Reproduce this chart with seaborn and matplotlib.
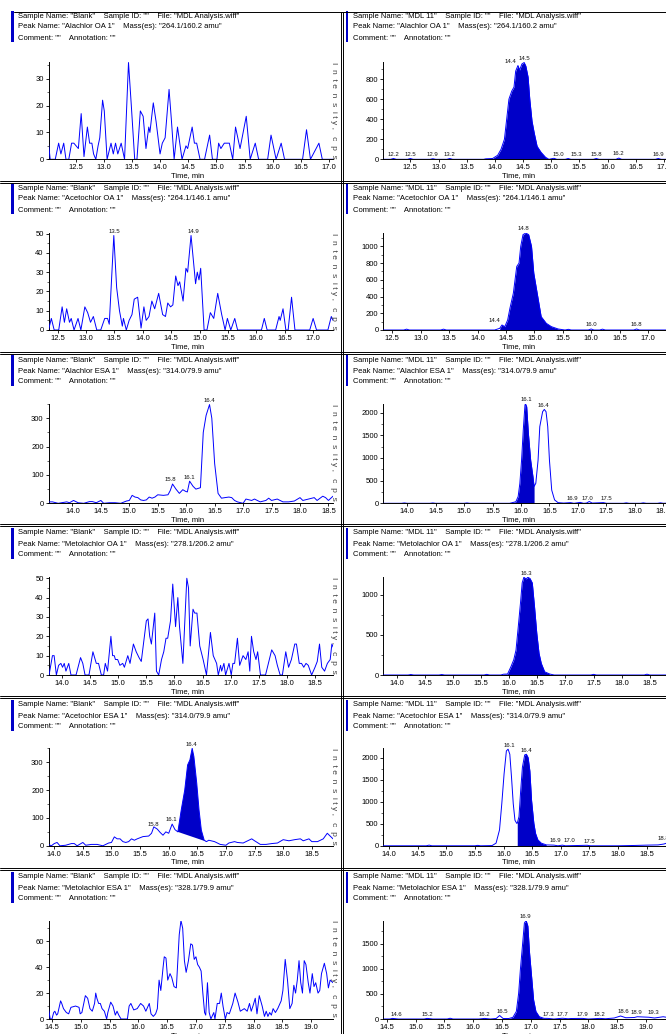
import numpy as np
import matplotlib
matplotlib.use("Agg")
import matplotlib.pyplot as plt
import seaborn as sns
from matplotlib.lines import Line2D
from matplotlib.patches import Rectangle
from matplotlib.ticker import MultipleLocator, AutoMinorLocator, FormatStrFormatter

sns.set_theme(style="white")
plt.rcParams["font.family"] = ["Liberation Sans", "DejaVu Sans"]

# ---------------- data ----------------
compounds = ["Alachlor OA 1", "Acetochlor OA 1", "Alachlor ESA 1",
             "Metolachlor OA 1", "Acetochlor ESA 1", "Metolachlor ESA 1"]
masses = ["264.1/160.2 amu", "264.1/146.1 amu", "314.0/79.9 amu",
          "278.1/206.2 amu", "314.0/79.9 amu", "328.1/79.9 amu"]
samples = ["Blank", "MDL 11"]
x_ranges = [(12.02, 17.07), (12.34, 17.35), (13.58, 18.58),
            (13.76, 18.82), (13.9, 18.87), (14.44, 19.38)]
y_tops_blank = [36.2, 50.3, 350, 50.5, 350, 76]
y_tops_mdl = [970, 1160, 2190, 1220, 2210, 1960]
y_steps_blank = [10, 10, 100, 10, 100, 20]
y_steps_mdl = [200, 200, 500, 500, 500, 500]

blank_alachlor_oa = [(12.02,6),(12.05,0),(12.14,0),(12.2,6),(12.24,2),(12.29,6),(12.33,0),(12.38,0),(12.43,6),(12.47,6),
    (12.51,5),(12.55,4),(12.6,17),(12.65,1),(12.71,12),(12.75,6),(12.79,6),(12.82,2),(12.86,0),(12.9,5),
    (12.93,8),(12.98,22),(13.01,18),(13.06,0),(13.13,6),(13.17,2),(13.21,6),(13.25,2),(13.31,6),(13.37,0),
    (13.44,36),(13.49,20),(13.55,0),(13.59,0),(13.65,18),(13.7,16),(13.75,4),(13.8,12),(13.82,10),(13.88,21),
    (13.93,14),(14.0,2),(14.04,6),(14.09,8),(14.16,26),(14.2,15),(14.25,0),(14.31,12),(14.39,0),(14.46,5),
    (14.49,4),(14.57,12),(14.61,6),(14.65,6),(14.71,0),(14.79,0),(14.88,9),(14.93,0),(15.01,0),(15.04,6),
    (15.08,4),(15.14,6),(15.23,6),(15.29,0),(15.34,12),(15.42,4),(15.53,16),(15.6,0),(15.69,6),(15.75,0),
    (15.91,0),(15.97,9),(16.06,0),(16.15,6),(16.21,0),(16.53,0),(16.6,11),(16.67,0),(16.82,6),(16.88,0),(17.07,0)]

mdl_alachlor_oa = [(12.02,0),(12.15,0),(12.2,8),(12.25,0),(12.45,0),(12.5,8),(12.55,0),(12.85,0),(12.9,6),(12.95,0),
    (13.15,0),(13.2,8),(13.25,0),(13.8,0),(13.84,5),(13.96,8),(14.05,40),(14.11,100),(14.17,200),(14.21,400),
    (14.25,600),(14.3,680),(14.34,720),(14.37,880),(14.41,935),(14.44,890),(14.48,950),(14.52,965),(14.55,930),
    (14.59,820),(14.62,600),(14.66,380),(14.7,260),(14.75,130),(14.82,70),(14.9,20),(14.96,0),(15.0,5),(15.05,10),
    (15.1,0),(15.25,0),(15.3,8),(15.35,0),(15.75,0),(15.8,8),(15.85,0),(16.15,0),(16.2,12),(16.25,0),(16.85,0),
    (16.9,8),(16.95,0),(17.1,0)]

blank_acetochlor_oa = [(12.34,0),(12.39,6),(12.44,0),(12.52,0),(12.58,12),(12.62,4),(12.66,11),(12.71,4),(12.74,6),
    (12.79,0),(12.86,6),(12.91,0),(12.98,12),(13.03,9),(13.08,4),(13.13,7),(13.19,0),(13.26,0),(13.33,6),(13.38,6),
    (13.41,3),(13.49,49),(13.54,22),(13.59,10),(13.64,2),(13.66,6),(13.71,0),(13.76,5),(13.81,8),(13.85,16),
    (13.91,17),(13.97,1),(14.02,12),(14.06,5),(14.11,7),(14.16,15),(14.21,11),(14.28,19),(14.35,8),(14.4,7),
    (14.44,14),(14.49,12),(14.53,13),(14.58,28),(14.62,23),(14.65,25),(14.71,15),(14.76,32),(14.79,30),(14.85,49),
    (14.93,24),(14.96,30),(14.99,26),(15.02,32),(15.08,0),(15.13,0),(15.19,9),(15.25,6),(15.32,19),(15.39,8),
    (15.45,0),(15.49,6),(15.55,0),(15.62,6),(15.67,0),(16.09,0),(16.14,6),(16.19,0),(16.34,0),(16.4,7),
    (16.42,5),(16.47,11),(16.52,0),(16.56,0),(16.62,17),(16.68,0),(16.94,0),(17.0,6),(17.06,0),(17.26,0),
    (17.32,7),(17.35,5)]

mdl_acetochlor_oa = [(12.34,0),(12.7,0),(12.75,10),(12.8,0),(13.35,0),(13.4,10),(13.45,0),(14.3,0),(14.39,20),
    (14.43,60),(14.48,40),(14.53,120),(14.57,260),(14.63,440),(14.66,600),(14.69,760),(14.73,800),(14.76,1000),
    (14.8,1140),(14.85,1160),(14.9,1140),(14.95,1000),(14.99,680),(15.06,400),(15.12,160),(15.21,80),(15.3,40),
    (15.42,12),(15.54,0),(15.6,8),(15.65,0),(15.95,0),(16.0,12),(16.05,0),(16.15,0),(16.2,10),(16.25,0),
    (16.75,0),(16.8,12),(16.85,0),(17.4,0)]

blank_alachlor_esa = [(13.58,5),(13.65,5),(13.75,0),(13.9,5),(13.95,2),(14.02,10),(14.1,2),(14.2,0),(14.3,6),
    (14.35,6),(14.42,2),(14.5,10),(14.55,0),(14.65,2),(14.75,2),(14.85,0),(14.95,8),(15.0,10),(15.05,28),
    (15.1,22),(15.15,20),(15.2,12),(15.25,10),(15.3,12),(15.35,22),(15.4,18),(15.45,22),(15.5,30),(15.6,28),
    (15.68,30),(15.72,45),(15.76,68),(15.82,50),(15.88,35),(15.94,48),(15.99,42),(16.02,40),(16.06,78),(16.12,60),
    (16.17,50),(16.25,55),(16.3,250),(16.35,310),(16.41,348),(16.45,300),(16.5,140),(16.56,35),(16.62,18),
    (16.68,20),(16.75,22),(16.8,20),(16.85,10),(16.9,5),(17.0,0),(17.05,15),(17.15,10),(17.2,15),(17.3,5),
    (17.4,10),(17.45,18),(17.5,10),(17.6,15),(17.7,5),(17.8,5),(17.9,8),(18.0,20),(18.05,10),(18.15,15),
    (18.25,20),(18.3,10),(18.4,25),(18.45,20),(18.5,10),(18.58,25)]

mdl_alachlor_esa = [(13.58,0),(13.9,0),(13.95,8),(14.0,0),(14.4,0),(14.45,8),(14.5,0),(15.0,0),(15.05,8),(15.1,0),
    (15.8,0),(15.85,15),(15.91,35),(15.95,150),(15.98,440),(16.01,950),(16.04,1620),(16.07,2170),(16.08,2190),
    (16.1,2130),(16.13,1540),(16.17,950),(16.21,590),(16.23,370),(16.26,440),(16.3,950),(16.33,1690),(16.38,2020),
    (16.41,2070),(16.44,2020),(16.47,1690),(16.5,950),(16.54,290),(16.59,75),(16.65,15),(16.75,5),(16.87,15),
    (16.93,0),(17.04,20),(17.1,0),(17.15,5),(17.2,40),(17.25,5),(17.45,15),(17.5,0),(17.8,0),(17.85,10),(17.9,0),
    (18.1,0),(18.15,10),(18.2,0),(18.4,0),(18.45,10),(18.5,0),(18.6,5)]

blank_metolachlor_oa = [(13.77,0),(13.83,10),(13.86,10),(13.9,0),(13.94,5),(13.98,6),(14.01,4),(14.04,6),(14.07,2),
    (14.12,6),(14.16,0),(14.25,0),(14.33,9),(14.37,6),(14.41,0),(14.48,0),(14.55,12),(14.61,6),(14.65,6),(14.7,0),
    (14.74,0),(14.77,6),(14.81,2),(14.87,20),(14.9,10),(14.93,10),(14.95,8),(14.99,8),(15.03,5),(15.08,6),
    (15.11,4),(15.17,10),(15.21,6),(15.27,16),(15.32,12),(15.37,9),(15.41,7),(15.5,28),(15.53,29),(15.56,20),
    (15.59,16),(15.65,32),(15.68,2),(15.72,0),(15.77,8),(15.81,12),(15.85,19),(15.88,19),(15.93,28),(15.97,47),
    (16.02,25),(16.06,40),(16.09,25),(16.15,6),(16.22,50),(16.25,45),(16.28,15),(16.33,34),(16.36,32),(16.4,32),
    (16.45,15),(16.51,8),(16.57,0),(16.64,22),(16.69,10),(16.75,6),(16.78,0),(16.82,5),(16.84,2),(16.88,6),
    (16.91,0),(16.97,6),(17.01,0),(17.04,6),(17.07,6),(17.12,19),(17.16,5),(17.22,10),(17.27,8),(17.31,12),
    (17.34,2),(17.37,20),(17.41,12),(17.45,8),(17.48,12),(17.53,0),(17.62,0),(17.73,13),(17.79,10),(17.83,5),
    (17.88,0),(17.92,0),(17.98,12),(18.03,4),(18.08,8),(18.14,16),(18.17,16),(18.22,6),(18.26,6),(18.3,4),
    (18.34,6),(18.38,5),(18.44,0),(18.5,4),(18.54,7),(18.58,16),(18.62,4),(18.67,2),(18.72,6),(18.77,8),
    (18.8,16),(18.83,14)]

mdl_metolachlor_oa = [(13.76,0),(14.2,0),(14.25,6),(14.3,0),(14.75,0),(14.8,6),(14.85,0),(15.55,0),(15.6,8),
    (15.65,0),(15.85,0),(15.9,10),(15.97,12),(16.03,104),(16.08,190),(16.12,310),(16.16,600),(16.2,900),
    (16.23,1150),(16.26,1220),(16.3,1200),(16.33,1220),(16.37,1205),(16.41,1150),(16.45,850),(16.49,520),
    (16.53,270),(16.57,145),(16.63,40),(16.72,12),(16.8,0),(17.45,0),(17.5,8),(17.55,0),(18.4,0),(18.45,10),
    (18.5,0),(18.85,0)]

blank_acetochlor_esa = [(13.9,5),(13.95,0),(14.0,8),(14.05,12),(14.1,0),(14.2,2),(14.3,8),(14.35,8),(14.4,0),
    (14.5,12),(14.55,2),(14.65,5),(14.75,5),(14.85,0),(14.95,10),(15.0,12),(15.05,32),(15.1,25),(15.15,25),
    (15.2,15),(15.25,12),(15.3,15),(15.35,25),(15.4,20),(15.45,25),(15.55,33),(15.65,35),(15.7,45),(15.74,68),
    (15.8,60),(15.85,48),(15.9,38),(15.95,50),(16.0,45),(16.06,78),(16.11,58),(16.16,50),(16.22,130),(16.28,200),
    (16.33,290),(16.37,308),(16.41,350),(16.44,320),(16.49,224),(16.53,128),(16.57,56),(16.62,20),(16.66,15),
    (16.7,20),(16.8,15),(16.9,5),(17.0,2),(17.05,10),(17.15,15),(17.2,12),(17.3,10),(17.4,20),(17.45,25),
    (17.5,18),(17.6,5),(17.7,5),(17.8,8),(17.9,10),(18.0,22),(18.1,18),(18.2,22),(18.3,25),(18.35,18),
    (18.45,25),(18.5,15),(18.6,15),(18.7,25),(18.77,45),(18.82,35),(18.87,25)]
blank_acetochlor_esa_baseline = [(16.16, 50), (16.66, 15)]

mdl_acetochlor_esa = [(13.9,0),(14.65,0),(14.7,15),(14.75,0),(15.5,0),(15.55,10),(15.6,0),(15.8,5),(15.87,60),
    (15.93,360),(15.97,955),(16.01,1630),(16.05,2150),(16.08,2190),(16.11,2075),(16.14,1550),(16.17,955),
    (16.2,580),(16.23,510),(16.24,510),(16.27,660),(16.3,1250),(16.33,1780),(16.37,2060),(16.4,2075),
    (16.43,2000),(16.46,1700),(16.49,1030),(16.53,510),(16.56,280),(16.6,135),(16.66,60),(16.75,20),(16.88,15),
    (16.95,0),(17.03,15),(17.08,0),(17.46,12),(17.52,0),(18.0,0),(18.3,8),(18.5,15),(18.7,20),(18.8,40),
    (18.85,60),(18.88,40)]

blank_metolachlor_esa = [(14.44,8),(14.47,0),(14.5,0),(14.53,5),(14.55,6),(14.58,3),(14.6,4),(14.65,14),(14.67,12),
    (14.7,8),(14.75,5),(14.79,4),(14.83,9),(14.91,10),(14.97,9),(14.99,4),(15.02,5),(15.08,18),(15.12,16),
    (15.16,8),(15.2,6),(15.24,12),(15.26,20),(15.28,16),(15.31,12),(15.34,12),(15.37,8),(15.41,6),(15.45,0),
    (15.47,5),(15.52,13),(15.56,10),(15.6,3),(15.63,6),(15.66,3),(15.7,0),(15.81,0),(15.84,10),(15.87,12),
    (15.9,9),(15.92,7),(15.98,8),(16.04,12),(16.09,10),(16.13,6),(16.19,12),(16.22,4),(16.26,2),(16.3,4),
    (16.33,8),(16.36,30),(16.39,22),(16.43,40),(16.45,48),(16.48,47),(16.51,30),(16.55,35),(16.58,32),
    (16.62,25),(16.66,24),(16.71,65),(16.74,76),(16.77,70),(16.8,45),(16.83,36),(16.87,45),(16.91,58),
    (16.94,57),(16.97,46),(17.0,48),(17.03,42),(17.06,40),(17.09,37),(17.12,20),(17.15,5),(17.17,3),(17.2,28),
    (17.23,5),(17.26,0),(17.31,5),(17.33,0),(17.37,12),(17.41,12),(17.44,20),(17.47,10),(17.51,0),(17.54,5),
    (17.58,4),(17.64,12),(17.68,20),(17.73,13),(17.77,6),(17.84,8),(17.89,6),(17.93,12),(17.96,6),(17.99,10),
    (18.03,16),(18.06,4),(18.1,18),(18.15,10),(18.19,2),(18.22,6),(18.25,2),(18.28,5),(18.31,3),(18.34,8),
    (18.38,5),(18.42,8),(18.48,14),(18.51,22),(18.55,46),(18.59,30),(18.63,8),(18.67,12),(18.7,26),(18.73,20),
    (18.76,30),(18.79,45),(18.82,28),(18.85,20),(18.88,45),(18.91,42),(18.95,28),(18.98,20),(19.02,35),
    (19.05,25),(19.08,28),(19.12,20),(19.15,22),(19.18,35),(19.23,43),(19.27,35),(19.3,24),(19.33,30),(19.38,28)]

mdl_metolachlor_esa = [(14.45,0),(14.55,0),(14.6,12),(14.7,0),(15.15,0),(15.2,12),(15.3,0),(15.55,0),(15.6,15),
    (15.65,0),(16.1,0),(16.2,12),(16.3,0),(16.4,10),(16.46,70),(16.52,10),(16.62,10),(16.69,33),(16.75,150),
    (16.79,510),(16.82,980),(16.86,1510),(16.89,1910),(16.92,1960),(16.95,1850),(16.98,1310),(17.02,780),
    (17.05,380),(17.09,150),(17.15,45),(17.23,13),(17.3,12),(17.4,0),(17.55,15),(17.65,5),(17.7,10),(17.9,12),
    (18.0,0),(18.2,12),(18.3,5),(18.45,20),(18.56,60),(18.65,25),(18.8,30),(18.85,45),(18.95,40),(19.05,35),
    (19.15,20),(19.3,45),(19.38,30)]

blank_traces = [blank_alachlor_oa, blank_acetochlor_oa, blank_alachlor_esa,
                blank_metolachlor_oa, blank_acetochlor_esa, blank_metolachlor_esa]
mdl_traces = [mdl_alachlor_oa, mdl_acetochlor_oa, mdl_alachlor_esa,
              mdl_metolachlor_oa, mdl_acetochlor_esa, mdl_metolachlor_esa]

# integrated (filled) regions of the MDL traces
mdl_fill = [(13.8, 14.96), (14.35, 15.54), (15.8, 16.23), (15.9, 16.75), (16.24, 16.8), (16.6, 17.3)]

blank_labels = [[], [13.5, 14.9], [15.8, 16.1, 16.4], [], [15.8, 16.1, 16.4], []]
mdl_labels = [[12.2, 12.5, 12.9, 13.2, 14.4, 14.5, 15.0, 15.3, 15.8, 16.2, 16.9],
              [14.4, 14.8, 16.0, 16.8],
              [16.1, 16.4, 16.9, 17.0, 17.5],
              [16.3],
              [16.1, 16.4, 16.9, 17.0, 17.5, 18.8],
              [14.6, 15.2, 16.2, 16.5, 16.9, 17.3, 17.7, 17.9, 18.2, 18.6, 18.9, 19.3]]

# ---------------- layout / style ----------------
W, H = 666, 1034
BLUE = "#0000ff"
FILL = "#0000c8"
FS = 5.5

row_top = [62, 233, 404, 577.3, 748.3, 920.5]
row_bot = [159.3, 330, 503.3, 675, 845.8, 1019]
head_y = [16, 188, 360, 533, 705, 877]
bounds = [12, 182, 353.5, 525, 697, 869]
col_left = [48.5, 383.3]
col_text = [18, 353]
col_bar = [11, 345.5]
AX_W = 284.5

label_dx = {(0, 1): {14.4: -5, 14.5: 0.8, 15.0: 5.5, 15.3: 6},
            (1, 1): {14.4: -4},
            (2, 0): {15.8: -3, 16.1: -2},
            (2, 1): {17.0: 7},
            (4, 0): {15.8: -3, 16.1: -2},
            (4, 1): {17.0: 6},
            (5, 1): {14.6: 3, 17.7: -6.5, 18.9: -3, 19.3: -7}}


def fx(px):
    return px / W


def fy(py):
    return 1 - py / H


fig = plt.figure(figsize=(W / 100, H / 100), dpi=100)
fig.patch.set_facecolor("white")


def add_labels(ax, t, v, labels, dxs):
    for lab in labels:
        m = np.abs(t - lab) <= 0.0501
        y = v[m].max() if m.any() else np.interp(lab, t, v)
        ax.annotate(f"{lab:.1f}", xy=(lab, y), xytext=(dxs.get(lab, 0), 1.2),
                    textcoords="offset points", ha="center", va="bottom",
                    fontsize=4.3, annotation_clip=False, color="#111111")


for r in range(6):
    for c in range(2):
        ax = fig.add_axes([fx(col_left[c]), fy(row_bot[r]), AX_W / W,
                           (row_bot[r] - row_top[r]) / H])
        ax.set_facecolor("none")
        trace = blank_traces[r] if c == 0 else mdl_traces[r]
        t = np.array([p[0] for p in trace])
        v = np.array([p[1] for p in trace], dtype=float)

        if c == 1:
            lo, hi = mdl_fill[r]
            m = (t >= lo) & (t <= hi)
            ax.fill_between(t[m], v[m], 0, color=FILL, lw=0, zorder=2)
        if r == 4 and c == 0:
            (b0t, b0v), (b1t, b1v) = blank_acetochlor_esa_baseline
            m = (t >= b0t) & (t <= b1t)
            xs = list(t[m]) + [b1t, b0t]
            ys = list(v[m]) + [b1v, b0v]
            ax.fill(xs, ys, color=FILL, lw=0, zorder=2)

        sns.lineplot(x=t, y=v, ax=ax, color=BLUE, linewidth=0.7,
                     estimator=None, sort=False, legend=False, zorder=3)

        ax.set_xlim(*x_ranges[r])
        top = y_tops_blank[r] if c == 0 else y_tops_mdl[r]
        step = y_steps_blank[r] if c == 0 else y_steps_mdl[r]
        ax.set_ylim(0, top)
        ax.yaxis.set_major_locator(MultipleLocator(step))
        ax.yaxis.set_minor_locator(AutoMinorLocator(2))
        ax.xaxis.set_major_locator(MultipleLocator(0.5))
        ax.xaxis.set_major_formatter(FormatStrFormatter("%.1f"))
        ax.yaxis.set_major_formatter(FormatStrFormatter("%d"))
        for s in ["top", "right"]:
            ax.spines[s].set_visible(False)
        for s in ["left", "bottom"]:
            ax.spines[s].set_color("black")
            ax.spines[s].set_linewidth(0.7)
        ax.tick_params(which="major", direction="out", length=2.5, width=0.6,
                       pad=1, labelsize=FS, colors="black", left=True, bottom=True)
        ax.tick_params(which="minor", direction="out", length=1.3, width=0.5,
                       left=True, bottom=False)
        ax.grid(False)
        ax.set_ylabel("")
        ax.set_xlabel("Time, min", fontsize=FS, labelpad=1, color="black")
        ax.xaxis.set_label_coords(0.49 if c == 0 else 0.475, -0.13)

        add_labels(ax, t, v, blank_labels[r] if c == 0 else mdl_labels[r],
                   label_dx.get((r, c), {}))

        # header block
        tx = fx(col_text[c])
        fig.text(tx, fy(head_y[r]),
                 f'Sample Name: "{samples[c]}"    Sample ID: ""    File: "MDL Analysis.wiff"',
                 fontsize=FS, va="center", ha="left", color="black")
        fig.text(tx, fy(head_y[r] + 11),
                 f'Peak Name: "{compounds[r]}"    Mass(es): "{masses[r]}"',
                 fontsize=FS, va="center", ha="left", color="black")
        fig.text(tx, fy(head_y[r] + 22), 'Comment: ""    Annotation: ""',
                 fontsize=FS, va="center", ha="left", color="black")
        fig.patches.append(Rectangle((fx(col_bar[c]), fy(head_y[r] + 26)), 2.5 / W, 31 / H,
                                     transform=fig.transFigure, color=FILL, lw=0))

        if c == 0:
            fig.text(fx(333), fy(row_top[r]), "I  n  t e  n  s  i t y ,   c  p  s",
                     rotation=-90, fontsize=6, va="top", ha="center", color="#444444")

# frame lines
for k, b in enumerate(bounds):
    ys = [b] if k == 0 else [b - 1.2, b + 0.6]
    for yy in ys:
        fig.add_artist(Line2D([fx(0 if k else 14), 1], [fy(yy), fy(yy)],
                              transform=fig.transFigure, color="black", lw=0.7))
for xx in [340.5, 343.5]:
    fig.add_artist(Line2D([fx(xx), fx(xx)], [fy(12), 0], transform=fig.transFigure,
                          color="black", lw=0.7))

fig.savefig("out.png", dpi=100, facecolor="white")
